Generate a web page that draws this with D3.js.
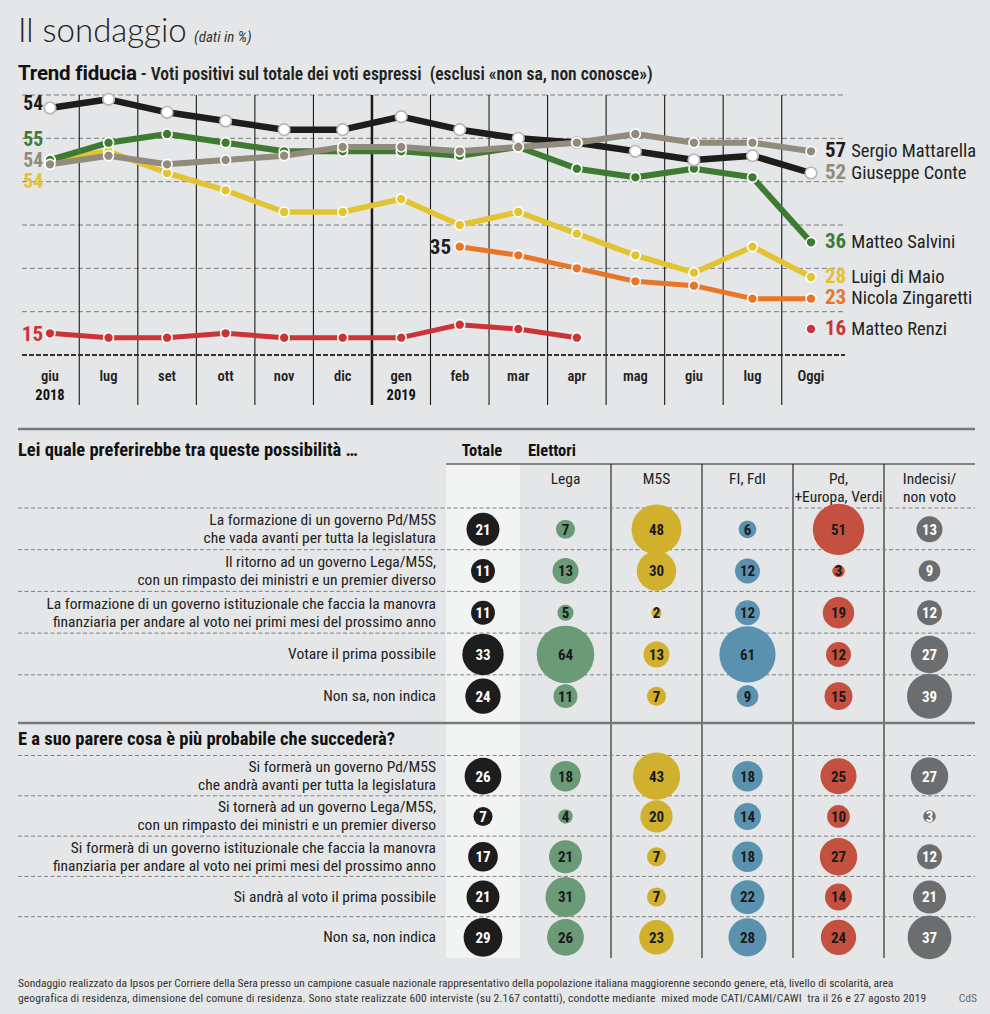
<!DOCTYPE html>
<html><head><meta charset="utf-8">
<script src="https://cdn.jsdelivr.net/npm/d3@7/dist/d3.min.js"></script>
<style>
html,body{margin:0;padding:0;background:#e4e6e7;}
svg text{font-family:'Liberation Sans Narrow','Roboto Condensed','Open Sans Condensed','DejaVu Sans Condensed','Open Sans','Noto Sans',sans-serif;font-stretch:condensed;}
</style></head><body>
<svg id="c" width="990" height="1014"></svg>
<script>
// ---------- DATA ----------
const months = ["giu","lug","set","ott","nov","dic","gen","feb","mar","apr","mag","giu","lug","Oggi"];
const years  = ["2018","","","","","","2019","","","","","","",""];
const conte      = [67,69,66,64,62,62,65,62,60,59,57,55,56,52];
const mattarella = [54,56,54,55,56,58,58,57,58,59,61,59,59,57];
const salvini    = [55,59,61,59,57,57,57,56,58,53,51,53,51,36];
const dimaio     = [55,57,52,48,43,43,46,40,43,38,33,29,35,28];
const zingaretti = [null,null,null,null,null,null,null,35,33,30,27,26,23,23];
const renzi      = [15,14,14,15,14,14,14,17,16,14,null,null,null,16];
const endNames   = ["Sergio Mattarella","Giuseppe Conte","Matteo Salvini","Luigi di Maio","Nicola Zingaretti","Matteo Renzi"];
const endValues  = [57,52,36,28,23,16];
const startLabels = ["54","55","54","54"];
const gridTicks = [20,30,40,50,60,70];

const columns = ["Lega","M5S","FI, FdI","Pd,|+Europa, Verdi","Indecisi/|non voto"];
const q1Rows = ["La formazione di un governo Pd/M5S|che vada avanti per tutta la legislatura",
  "Il ritorno ad un governo Lega/M5S,|con un rimpasto dei ministri e un premier diverso",
  "La formazione di un governo istituzionale che faccia la manovra|finanziaria per andare al voto nei primi mesi del prossimo anno",
  "Votare il prima possibile","Non sa, non indica"];
const q1Totale = [21,11,11,33,24];
const q1Lega   = [7,13,5,64,11];
const q1M5S    = [48,30,2,13,7];
const q1FI     = [6,12,12,61,9];
const q1Pd     = [51,3,19,12,15];
const q1Ind    = [13,9,12,27,39];
const q2Rows = ["Si formerà un governo Pd/M5S|che andrà avanti per tutta la legislatura",
  "Si tornerà ad un governo Lega/M5S,|con un rimpasto dei ministri e un premier diverso",
  "Si formerà di un governo istituzionale che faccia la manovra|finanziaria per andare al voto nei primi mesi del prossimo anno",
  "Si andrà al voto il prima possibile","Non sa, non indica"];
const q2Totale = [26,7,17,21,29];
const q2Lega   = [18,4,21,31,26];
const q2M5S    = [43,20,7,7,23];
const q2FI     = [18,14,18,22,28];
const q2Pd     = [25,10,27,14,24];
const q2Ind    = [27,3,12,21,37];

// ---------- STYLE ----------
const C = {black:"#1d1d1b", grey:"#908b7a", green:"#3f7a33", yellow:"#e2c332", orange:"#e87528", red:"#cc3337"};
const bubbleCols = ["#1d1d1d","#6a9a76","#d1b02e","#5a91ae","#c4503f","#6b6d6e"];
const bubbleText = ["#fff","#1a1a1a","#1a1a1a","#1a1a1a","#1a1a1a","#fff"];

const svg = d3.select("#c");
svg.append("rect").attr("width",990).attr("height",1014).attr("fill","#e4e6e7");

// Titles
const t = svg.append("text").attr("x",18).attr("y",42);
t.append("tspan").text("Il sondaggio").attr("font-size",33).attr("font-weight",300).attr("fill","#222").style("font-family","Lato, 'Open Sans', sans-serif").style("font-stretch","normal");
t.append("tspan").text(" (dati in %)").attr("font-size",15).attr("font-style","italic").attr("fill","#333").attr("dx",4);
const st = svg.append("text").attr("x",18).attr("y",80);
st.append("tspan").text("Trend fiducia").attr("font-size",20.5).attr("font-weight",700).attr("fill","#111")
  .style("font-family","Roboto, 'Open Sans', sans-serif").style("font-stretch","normal").style("letter-spacing","-0.2px");
st.append("tspan").text(" - Voti positivi sul totale dei voti espressi  (esclusi «non sa, non conosce»)")
  .attr("font-size",17.5).attr("font-weight",600).attr("fill","#222").style("white-space","pre");

// ---------- LINE CHART ----------
const x = d3.scaleLinear().domain([0,13]).range([50,811]);
const y = d3.scaleLinear().domain([10,70]).range([355,95]);

const g = svg.append("g");
g.selectAll("line.grid").data(gridTicks).join("line")
  .attr("x1",22).attr("x2",845).attr("y1",d=>y(d)).attr("y2",d=>y(d))
  .attr("stroke","#7d7f80").attr("stroke-width",1).attr("stroke-dasharray","5,3");
g.selectAll("line.vert").data(d3.range(13)).join("line")
  .attr("x1",i=>x(i+0.5)).attr("x2",i=>x(i+0.5)).attr("y1",y(70)).attr("y2",405)
  .attr("stroke","#1a1a1a").attr("stroke-width",i=>i===5?2.5:1.1);
g.append("line").attr("x1",22).attr("x2",845).attr("y1",y(10)).attr("y2",y(10))
  .attr("stroke","#333").attr("stroke-width",2).attr("stroke-dasharray","5,2");

// axis labels
const ax = g.selectAll("g.m").data(months).join("g");
ax.append("text").attr("x",(d,i)=>x(i)).attr("y",381).attr("text-anchor","middle")
  .attr("font-size",14.5).attr("font-weight",600).attr("fill","#222").text(d=>d);
ax.append("text").attr("x",(d,i)=>x(i)).attr("y",400).attr("text-anchor","middle")
  .attr("font-size",14.5).attr("font-weight",700).attr("fill","#111").text((d,i)=>years[i]);

const series = [
  {v:renzi, c:C.red, w:5},
  {v:zingaretti, c:C.orange, w:5},
  {v:dimaio, c:C.yellow, w:5.5},
  {v:salvini, c:C.green, w:6},
  {v:conte, c:C.black, w:6.5, hollow:true},
  {v:mattarella, c:C.grey, w:6}
];
const line = d3.line().defined(d=>d!=null).x((d,i)=>x(i)).y(d=>y(d));
series.forEach(s=>{
  g.append("path").attr("d",line(s.v)).attr("fill","none").attr("stroke",s.c)
   .attr("stroke-width",s.w).attr("stroke-linejoin","round");
});
series.forEach(s=>{
  g.selectAll(null).data(s.v.map((v,i)=>({v,i})).filter(d=>d.v!=null)).join("circle")
   .attr("cx",d=>x(d.i)).attr("cy",d=>y(d.v)).attr("r",s.hollow?5.8:5)
   .attr("fill",s.hollow?"#fff":s.c).attr("stroke",s.hollow?"#b5b5b5":"#fff").attr("stroke-width",1.6);
});

// start labels
const startCols = [C.black,C.green,C.grey,C.yellow];
const startY = [103,139,160,181];
g.selectAll("text.sl").data(startLabels).join("text")
  .attr("x",43).attr("y",(d,i)=>startY[i]).attr("dy","0.35em").attr("text-anchor","end")
  .attr("font-size",19.5).attr("font-weight",700).attr("fill",(d,i)=>startCols[i]).text(d=>d);
g.append("text").attr("x",43).attr("y",y(renzi[0])).attr("dy","0.35em").attr("text-anchor","end")
  .attr("font-size",21).attr("font-weight",700).attr("fill",C.red).text(renzi[0]);
g.append("text").attr("x",451).attr("y",y(zingaretti[7])).attr("dy","0.35em").attr("text-anchor","end")
  .attr("font-size",21).attr("font-weight",700).attr("fill",C.black).text(zingaretti[7]);

// end labels
const endCols = [C.black,C.grey,C.green,C.yellow,C.orange,C.red];
const el = g.selectAll("text.el").data(endNames).join("text")
  .attr("x",825).attr("y",(d,i)=>y(endValues[i])).attr("dy","0.35em");
el.append("tspan").attr("font-size",21).attr("font-weight",700).attr("fill",(d,i)=>endCols[i]).text((d,i)=>endValues[i]);
el.append("tspan").attr("dx",5).attr("font-size",18.5).attr("fill","#222").text(d=>d);

// ---------- TABLE ----------
const r = d3.scaleSqrt().domain([0,64]).range([0,28.8]);
const colBand = d3.scaleBand().domain(d3.range(5)).range([520,975]);
const colX = i => i===0 ? 483 : colBand(i-1)+colBand.bandwidth()/2;

svg.append("line").attr("x1",18).attr("x2",975).attr("y1",429).attr("y2",429).attr("stroke","#77797a").attr("stroke-width",2.5);
svg.append("text").attr("x",18).attr("y",456).attr("font-size",18.5).attr("font-weight",700).attr("fill","#111").text("Lei quale preferirebbe tra queste possibilità …");
svg.append("text").attr("x",482).attr("y",456).attr("text-anchor","middle").attr("font-size",16.5).attr("font-weight",700).attr("fill","#111").text("Totale");
svg.append("text").attr("x",528).attr("y",456).attr("font-size",16.5).attr("font-weight",700).attr("fill","#111").text("Elettori");
svg.append("rect").attr("x",446).attr("y",464).attr("width",74).attr("height",494).attr("fill","#f2f3f3");
svg.append("line").attr("x1",446).attr("x2",975).attr("y1",464).attr("y2",464).attr("stroke","#222").attr("stroke-width",1.2);
svg.selectAll("line.col").data(d3.range(1,5)).join("line")
  .attr("x1",i=>colBand(i)).attr("x2",i=>colBand(i)).attr("y1",464).attr("y2",958)
  .attr("stroke","#1a1a1a").attr("stroke-width",1.1);
columns.forEach((c,i)=>{
  c.split("|").forEach((ln,k)=>{
    svg.append("text").attr("x",colX(i+1)).attr("y",484+k*18).attr("text-anchor","middle")
      .attr("font-size",15.5).attr("fill","#222").text(ln);
  });
});

function section(rows, vals, top, step, title, titleY, ruleY){
  if(ruleY) svg.append("line").attr("x1",18).attr("x2",975).attr("y1",ruleY).attr("y2",ruleY).attr("stroke","#77797a").attr("stroke-width",2.5);
  if(title) svg.append("text").attr("x",18).attr("y",titleY).attr("font-size",18.5).attr("font-weight",700).attr("fill","#111").text(title);
  rows.forEach((row,ri)=>{
    const yl = top + ri*step;
    svg.append("line").attr("x1",18).attr("x2",975).attr("y1",yl).attr("y2",yl)
      .attr("stroke","#7d7f80").attr("stroke-dasharray","4,2.5").attr("stroke-width",1);
  });
  rows.forEach((row,ri)=>{
    const cy = top + ri*step + step/2 + 0.5;
    const lines = row.split("|");
    lines.forEach((ln,k)=>{
      svg.append("text").attr("x",436).attr("y", lines.length===1 ? cy+5 : cy-4+k*18)
        .attr("text-anchor","end").attr("font-size",15.5).attr("fill","#222").text(ln);
    });
    vals.forEach((arr,ci)=>{
      svg.append("circle").attr("cx",colX(ci)).attr("cy",cy).attr("r",r(arr[ri])).attr("fill",bubbleCols[ci]);
      svg.append("text").attr("x",colX(ci)).attr("y",cy).attr("dy","0.36em").attr("text-anchor","middle")
        .attr("font-size",15).attr("font-weight",700).attr("fill",bubbleText[ci]).text(arr[ri]);
    });
  });
}
section(q1Rows,[q1Totale,q1Lega,q1M5S,q1FI,q1Pd,q1Ind],508,41.7,null,0,null);
section(q2Rows,[q2Totale,q2Lega,q2M5S,q2FI,q2Pd,q2Ind],755.5,40.3,"E a suo parere cosa è più probabile che succederà?",745,723);

// footer
svg.append("text").attr("x",18).attr("y",987).attr("font-size",11.5).attr("fill","#333")
  .text("Sondaggio realizzato da Ipsos per Corriere della Sera presso un campione casuale nazionale rappresentativo della popolazione italiana maggiorenne secondo genere, età, livello di scolarità, area");
svg.append("text").attr("x",18).attr("y",1002).attr("font-size",11.5).attr("fill","#333").style("white-space","pre").style("letter-spacing","0.14px")
  .text("geografica di residenza, dimensione del comune di residenza. Sono state realizzate 600 interviste (su 2.167 contatti), condotte mediante  mixed mode CATI/CAMI/CAWI  tra il 26 e 27 agosto 2019");
svg.append("text").attr("x",977).attr("y",1002).attr("text-anchor","end").attr("font-size",11.5).attr("fill","#666").text("CdS");
</script>
</body></html>
